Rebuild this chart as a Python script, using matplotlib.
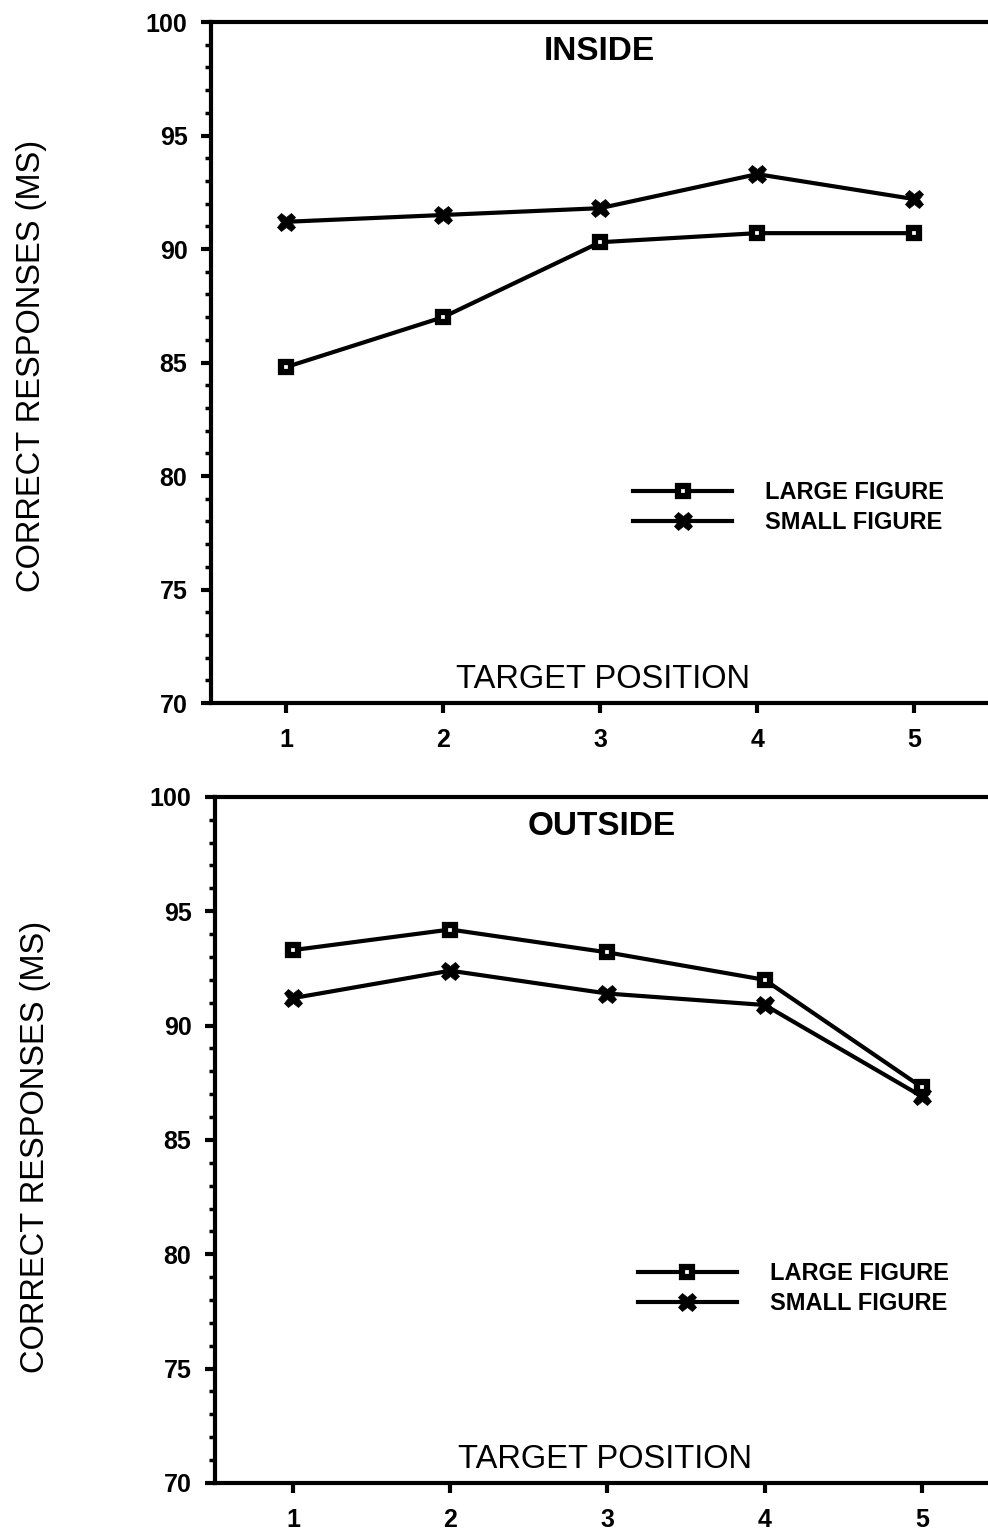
import matplotlib
matplotlib.use("Agg")
import matplotlib.pyplot as plt
from matplotlib.ticker import MultipleLocator

# target position 1..5, percent correct responses
positions = [1, 2, 3, 4, 5]
inside_large = [84.8, 87.0, 90.3, 90.7, 90.7]
inside_small = [91.2, 91.5, 91.8, 93.3, 92.2]
outside_large = [93.3, 94.2, 93.2, 92.0, 87.3]
outside_small = [91.2, 92.4, 91.4, 90.9, 86.9]

panel_titles = ["INSIDE", "OUTSIDE"]
series_labels = ["LARGE FIGURE", "SMALL FIGURE"]
ylabel = "CORRECT RESPONSES (MS)"
xlabel = "TARGET POSITION"

plt.rcParams["font.family"] = ["Liberation Sans", "DejaVu Sans"]

fig = plt.figure(figsize=(9.88, 15.31), dpi=100)

# [left, bottom, width, height], xlim, legend anchor, ylabel pos
layout = [
    ([0.2136, 0.5408, 0.7864, 0.4448], (0.522, 5.47), (0.543, 0.326), (0.032, 0.761)),
    ([0.2176, 0.0314, 0.7824, 0.4481], (0.504, 5.42), (0.547, 0.322), (0.036, 0.251)),
]
data = [(inside_large, inside_small), (outside_large, outside_small)]

for (rect, xl, leg_anchor, ylpos), (large, small), title in zip(layout, data, panel_titles):
    ax = fig.add_axes(rect)
    ax.plot(positions, large, color="black", lw=3, marker="s", ms=7,
            mfc="white", mec="black", mew=4.5, label=series_labels[0])
    ax.plot(positions, small, color="black", lw=3, marker="X", ms=13,
            mfc="black", mec="black", mew=0.5, label=series_labels[1])
    ax.set_xlim(*xl)
    ax.set_ylim(70, 100)
    ax.set_xticks(positions)
    ax.yaxis.set_major_locator(MultipleLocator(5))
    ax.yaxis.set_minor_locator(MultipleLocator(1))
    ax.spines["right"].set_visible(False)
    for s in ("left", "bottom", "top"):
        ax.spines[s].set_linewidth(3)
    ax.tick_params(axis="both", which="major", direction="out", length=7, width=3,
                   labelsize=18, pad=10)
    ax.tick_params(axis="y", which="minor", direction="out", length=4, width=2.5)
    ax.tick_params(axis="x", which="major", pad=11)
    for lab in ax.get_xticklabels() + ax.get_yticklabels():
        lab.set_fontweight("bold")
    ax.text(0.5, 0.957, title, transform=ax.transAxes, ha="center", va="center",
            fontsize=24, fontweight="bold")
    ax.text(0.505, 0.034, xlabel, transform=ax.transAxes, ha="center", va="center",
            fontsize=23.5)
    ax.legend(loc="upper left", bbox_to_anchor=leg_anchor, frameon=False,
              handlelength=4.2, handletextpad=1.4, labelspacing=0.3,
              borderpad=0, borderaxespad=0, prop={"weight": "bold", "size": 17})
    fig.text(ylpos[0], ylpos[1], ylabel, rotation=90, ha="center", va="center",
             fontsize=23.5)

fig.savefig("out.png", dpi=100)
